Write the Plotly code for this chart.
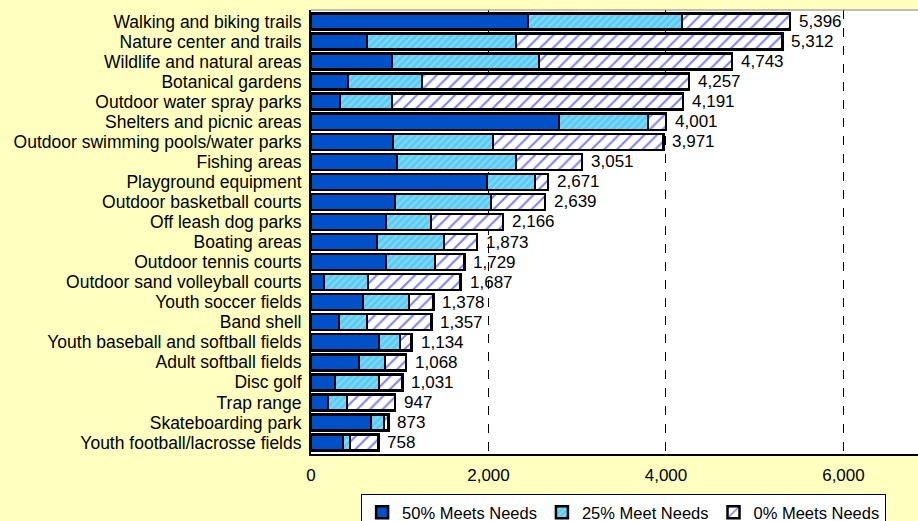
import plotly.graph_objects as go

categories = [
    "Walking and biking trails", "Nature center and trails", "Wildlife and natural areas",
    "Botanical gardens", "Outdoor water spray parks", "Shelters and picnic areas",
    "Outdoor swimming pools/water parks", "Fishing areas", "Playground equipment",
    "Outdoor basketball courts", "Off leash dog parks", "Boating areas",
    "Outdoor tennis courts", "Outdoor sand volleyball courts", "Youth soccer fields",
    "Band shell", "Youth baseball and softball fields", "Adult softball fields",
    "Disc golf", "Trap range", "Skateboarding park", "Youth football/lacrosse fields",
]
meets50 = [2445, 631, 913, 417, 327, 2794, 924, 969, 1983, 946, 845, 744, 845, 146, 586,
           316, 766, 541, 270, 192, 676, 361]
meets25 = [1735, 1679, 1656, 834, 586, 1003, 1127, 1341, 541, 1082, 507, 755, 552, 496, 518,
           315, 237, 293, 496, 214, 147, 78]
totals = [5396, 5312, 4743, 4257, 4191, 4001, 3971, 3051, 2671, 2639, 2166, 1873, 1729, 1687,
          1378, 1357, 1134, 1068, 1031, 947, 873, 758]
meets0 = [t - a - b for t, a, b in zip(totals, meets50, meets25)]
x_ticks = [0, 2000, 4000, 6000]
x_tick_labels = ["0", "2,000", "4,000", "6,000"]

font = "Liberation Sans, Arial, sans-serif"
fig = go.Figure()
fig.add_trace(go.Bar(
    y=categories, x=meets50, orientation="h", name="50% Meets Needs",
    marker=dict(color="#0050C8", line=dict(color="black", width=2.5)),
))
fig.add_trace(go.Bar(
    y=categories, x=meets25, orientation="h", name="25% Meet Needs",
    marker=dict(color="#5CCCF5", line=dict(color="black", width=2.5),
                pattern=dict(shape="/", fgcolor="#B8ECFC", bgcolor="#5CCCF5",
                             size=5, solidity=0.3)),
))
fig.add_trace(go.Bar(
    y=categories, x=meets0, orientation="h", name="0% Meets Needs",
    marker=dict(color="white", line=dict(color="black", width=2.5),
                pattern=dict(shape="/", fgcolor="#0000FF", bgcolor="white",
                             size=9, solidity=0.22)),
))

for cat, tot in zip(categories, totals):
    fig.add_annotation(x=tot, y=cat, xref="x", yref="y", text=f"{tot:,}",
                       showarrow=False, xanchor="left", xshift=7,
                       font=dict(family=font, size=17, color="black"))

fig.update_layout(
    width=918, height=521, barmode="stack", bargap=0.2,
    paper_bgcolor="#FFFFC0", plot_bgcolor="white",
    margin=dict(l=311, r=0, t=10, b=67, autoexpand=False),
    font=dict(family=font, size=15, color="black"),
    showlegend=True,
    legend=dict(orientation="h", x=0.515, xanchor="center", xref="paper",
                y=-0.09, yanchor="top", bgcolor="white", bordercolor="black",
                borderwidth=1, font=dict(family=font, size=16.5), traceorder="normal"),
)
fig.update_xaxes(range=[0, 6840], tickvals=x_ticks, ticktext=x_tick_labels,
                 showgrid=True, gridcolor="black", griddash="dash", gridwidth=1,
                 zeroline=False, showline=True, linecolor="black", linewidth=2,
                 mirror=False, tickfont=dict(size=17), ticks="", ticklabelstandoff=5)
fig.update_yaxes(autorange="reversed", showline=True, linecolor="black", linewidth=2,
                 tickmode="array", tickvals=categories, ticktext=categories,
                 tickfont=dict(size=17.5), ticks="", ticklabelstandoff=4)
fig.add_shape(type="line", xref="paper", yref="paper", x0=0, x1=1, y0=1, y1=1,
              line=dict(color="#808080", width=1))

fig.write_html("out.html", config={"displayModeBar": False},
               post_script="document.body.style.margin='0';document.body.style.overflow='hidden';")
